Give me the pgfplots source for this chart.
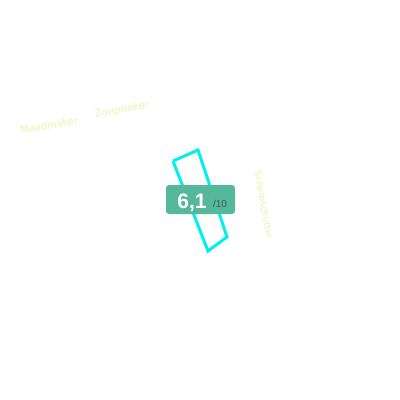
\documentclass[border=0pt]{standalone}
\usepackage{pgfplots}
\pgfplotsset{compat=1.18}
\usepackage{fontspec}
\setmainfont{Liberation Sans}
\newfontfamily\lblfont{DejaVu Sans}
\definecolor{badge}{HTML}{56B89B}
\definecolor{lbl}{HTML}{EAF3A8}
\definecolor{subtxt}{HTML}{2F5E50}
\definecolor{profcyan}{HTML}{00F0F0}
\begin{document}
\begin{tikzpicture}
\begin{axis}[
  width=400bp, height=400bp,
  scale only axis,
  xmin=0, xmax=400, ymin=0, ymax=400,
  y dir=reverse,
  hide axis,
  clip=false,
]
% invisible frame so the page is 400x400
\path (axis cs:0,0) rectangle (axis cs:400,400);
% player profile shape
\addplot[profcyan, line width=3bp, line join=miter] coordinates {
  (173,161) (198,150) (227,237) (208,251) (173,161)
};
\node[rotate=10, text=lbl, font=\lblfont\fontsize{10}{12}\selectfont, inner sep=0pt] at (axis cs:49,125) {Moodmaker};
\node[rotate=11, text=lbl, font=\lblfont\fontsize{10}{12}\selectfont, inner sep=0pt] at (axis cs:122,110) {Zorgmaker};
\node[rotate=-80, text=lbl, font=\lblfont\fontsize{9}{11}\selectfont, inner sep=0pt] at (axis cs:263,205) {Scherpschutter};
% score badge
\fill[badge, rounded corners=3bp] (axis cs:166,185) rectangle (axis cs:235,214);
\node[text=white, font=\bfseries\fontsize{21}{24}\selectfont, anchor=base] at (axis cs:192,208) {6,1};
\node[text=subtxt, font=\fontsize{10}{12}\selectfont, anchor=base] at (axis cs:220,207) {/10};
\end{axis}
\end{tikzpicture}
\end{document}
